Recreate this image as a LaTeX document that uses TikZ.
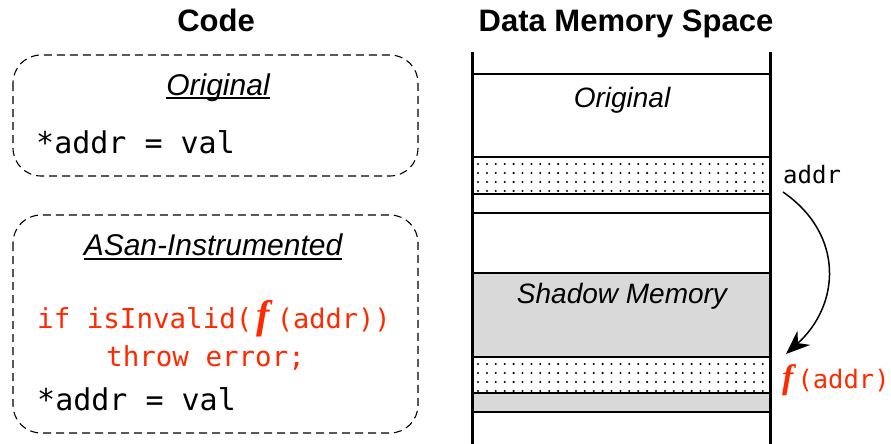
\documentclass[tikz,border=0pt]{standalone}
\usepackage{fontspec}
\setmainfont{Liberation Sans}
\setmonofont{DejaVu Sans Mono}
\newfontfamily\fserif{Liberation Serif}
\usetikzlibrary{arrows.meta}
\definecolor{codered}{HTML}{FF2A00}
\definecolor{shadowgray}{HTML}{D9D9D9}
\tikzset{
  heading/.style={font=\fontsize{31}{35}\selectfont\bfseries, inner sep=0pt, anchor=base},
  boxlabel/.style={font=\fontsize{30}{34}\selectfont\itshape, inner sep=0pt, anchor=base},
  memlabel/.style={font=\fontsize{28}{32}\selectfont\itshape, inner sep=0pt, anchor=base},
  codetext/.style={font=\fontsize{30}{34}\selectfont\ttfamily, inner sep=0pt, anchor=base west},
  redcode/.style={font=\fontsize{27.5}{32}\selectfont\ttfamily, text=codered, inner sep=0pt, anchor=base west},
  sidelabel/.style={font=\fontsize{24}{28}\selectfont\ttfamily, inner sep=0pt, anchor=base west},
  codebox/.style={draw, dash pattern=on 8pt off 5pt, line width=1.1pt, rounded corners=28pt},
  memwall/.style={line width=3pt},
  memline/.style={line width=1.6pt},
  uline/.style={line width=1.5pt},
}
\newcommand{\fsym}[1]{{\fserif\bfseries\itshape\fontsize{#1}{#1}\selectfont f}}
\begin{document}
\begin{tikzpicture}[x=1pt,y=-1pt]
\useasboundingbox (0,0) rectangle (891,444);

% headings
\node[heading] (hcode) at (216,32) {Code};
\node[heading] (hmem) at (626,32) {Data Memory Space};

% code boxes
\draw[codebox] (13,55) rectangle (418,176);
\draw[codebox] (13,215) rectangle (418,433);

\node[boxlabel] (orig) at (218,95) {Original};
\draw[uline] ([yshift=-3pt]orig.base west) -- ([yshift=-3pt]orig.base east);
\node[codetext] (c1) at (36,153) {*addr = val};

\node[boxlabel] (asan) at (213,255) {ASan-Instrumented};
\draw[uline] ([yshift=-4pt]asan.base west) -- ([yshift=-4pt]asan.base east);
\node[redcode] (c2) at (37,328) {if isInvalid(\hspace{4pt}\fsym{40}\hspace{7pt}{\fontsize{27}{30}\selectfont(addr))}};
\node[redcode] (c3) at (106,366) {throw error;};
\node[codetext] (c4) at (37,410) {*addr = val};

% memory fills
\fill[shadowgray] (472,273) rectangle (770,357);
\fill[shadowgray] (472,393) rectangle (770,412);
\foreach \yy in {157,357}{
  \foreach \r in {0,...,3}{
    \foreach \c in {0,...,32}{
      \fill[black] ({478+\c*8.9},{\yy+7+\r*9}) circle (1.15pt);
    }
  }
}

% memory lines
\foreach \yy in {74,157,194,213,273,357,393,412}{
  \draw[memline] (472,\yy) -- (770,\yy);
}
\draw[memwall] (472,52) -- (472,444);
\draw[memwall] (770,52) -- (770,444);

\node[memlabel] (morig) at (622,107) {Original};
\node[memlabel] (mshadow) at (622,303) {Shadow Memory};

% side labels
\node[sidelabel] (addr) at (783,183) {addr};
\node[sidelabel, text=codered] (faddr) at (782,388) {\fsym{34}\hspace{4pt}{\fontsize{25.5}{30}\selectfont(addr)}};

\coordinate (astart) at (783,192);
\coordinate (aend) at (786,354);
\draw[line width=1.5pt, -{Stealth[length=24pt,width=19pt]}] (astart) .. controls (845,235) and (840,305) .. (aend);
\end{tikzpicture}
\end{document}
